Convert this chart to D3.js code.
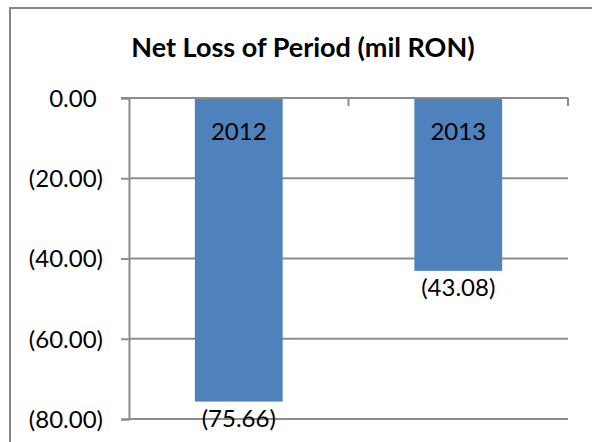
<!DOCTYPE html>
<html><head><meta charset="utf-8">
<script src="https://cdn.jsdelivr.net/npm/d3@7"></script>
<style>html,body{margin:0;padding:0;background:#fff;overflow:hidden}</style>
</head><body>
<svg id="c" width="592" height="442"></svg>
<script>
const title = "Net Loss of Period (mil RON)";
const categories = ["2012", "2013"];
const values = [-75.66, -43.08];
const yTicks = [0, -20, -40, -60, -80];

const FONT = "Lato, 'Open Sans', sans-serif";
const FS = 24;
const svg = d3.select("#c");
const fmtNum = v => v < 0 ? "(" + d3.format(",.2f")(-v) + ")" : d3.format(",.2f")(v);

// chart border (extends beyond the visible area on right/bottom)
svg.append("rect").attr("x", 10).attr("y", 8).attr("width", 600).attr("height", 460)
  .attr("fill", "#fff").attr("stroke", "#868686").attr("stroke-width", 2);

const pLeft = 129, pRight = 568, pTop = 98, pBottom = 419;
const y = d3.scaleLinear().domain([0, -80]).range([pTop, pBottom]);
const x = d3.scaleBand().domain(categories).range([pLeft, pRight]).paddingInner(0.6).paddingOuter(0.3);

// title
svg.append("text").attr("x", 303).attr("y", 57).attr("text-anchor", "middle")
  .attr("font-family", FONT).attr("font-weight", "bold").attr("font-size", 27)
  .attr("fill", "#000").text(title);

// gridlines
svg.append("g").selectAll("line").data(yTicks.filter(d => d !== 0)).join("line")
  .attr("x1", pLeft).attr("x2", pRight).attr("y1", d => y(d)).attr("y2", d => y(d))
  .attr("stroke", "#8c8c8c").attr("stroke-width", 2);

// y axis
const yAxis = svg.append("g").attr("transform", `translate(${pLeft},0)`)
  .call(d3.axisLeft(y).tickValues(yTicks).tickSize(8).tickPadding(0).tickFormat(fmtNum));
yAxis.select(".domain").attr("stroke", "#8c8c8c").attr("stroke-width", 2);
yAxis.selectAll(".tick line").attr("stroke", "#8c8c8c").attr("stroke-width", 2);
yAxis.selectAll(".tick text").attr("font-family", FONT).attr("font-size", FS).attr("fill", "#000")
  .attr("x", -26).attr("dy", "0.35em");
const parenW = (() => { const t = svg.append("text").attr("font-family", FONT).attr("font-size", FS).text(")"); const w = t.node().getComputedTextLength(); t.remove(); return w; })();
yAxis.selectAll(".tick text").filter(d => d >= 0).attr("x", -26 - parenW);

// bars
svg.append("g").selectAll("rect").data(values).join("rect")
  .attr("x", (d, i) => x(categories[i])).attr("width", x.bandwidth())
  .attr("y", d => y(Math.max(0, d))).attr("height", d => Math.abs(y(d) - y(0)))
  .attr("fill", "#4F81BD");

// category axis at zero with ticks at category boundaries
const bounds = categories.map(c => x(c) + x.bandwidth() + x.step() * x.paddingInner() / 2);
bounds[bounds.length - 1] = pRight;
svg.append("line").attr("x1", pLeft - 8).attr("x2", pRight).attr("y1", y(0)).attr("y2", y(0))
  .attr("stroke", "#8c8c8c").attr("stroke-width", 2);
svg.append("g").selectAll("line").data(bounds).join("line")
  .attr("x1", d => d).attr("x2", d => d).attr("y1", y(0)).attr("y2", y(0) + 8)
  .attr("stroke", "#8c8c8c").attr("stroke-width", 2);
svg.append("g").selectAll("text").data(categories).join("text")
  .attr("x", d => x(d) + x.bandwidth() / 2).attr("y", y(0) + 34).attr("dy", "0.35em")
  .attr("text-anchor", "middle").attr("font-family", FONT).attr("font-size", FS).attr("fill", "#000")
  .text(d => d);

// value labels
svg.append("g").selectAll("text").data(values).join("text")
  .attr("x", (d, i) => x(categories[i]) + x.bandwidth() / 2).attr("y", d => y(d) + 17).attr("dy", "0.35em")
  .attr("text-anchor", "middle").attr("font-family", FONT).attr("font-size", FS).attr("fill", "#000")
  .text(d => fmtNum(d));
</script>
</body></html>
